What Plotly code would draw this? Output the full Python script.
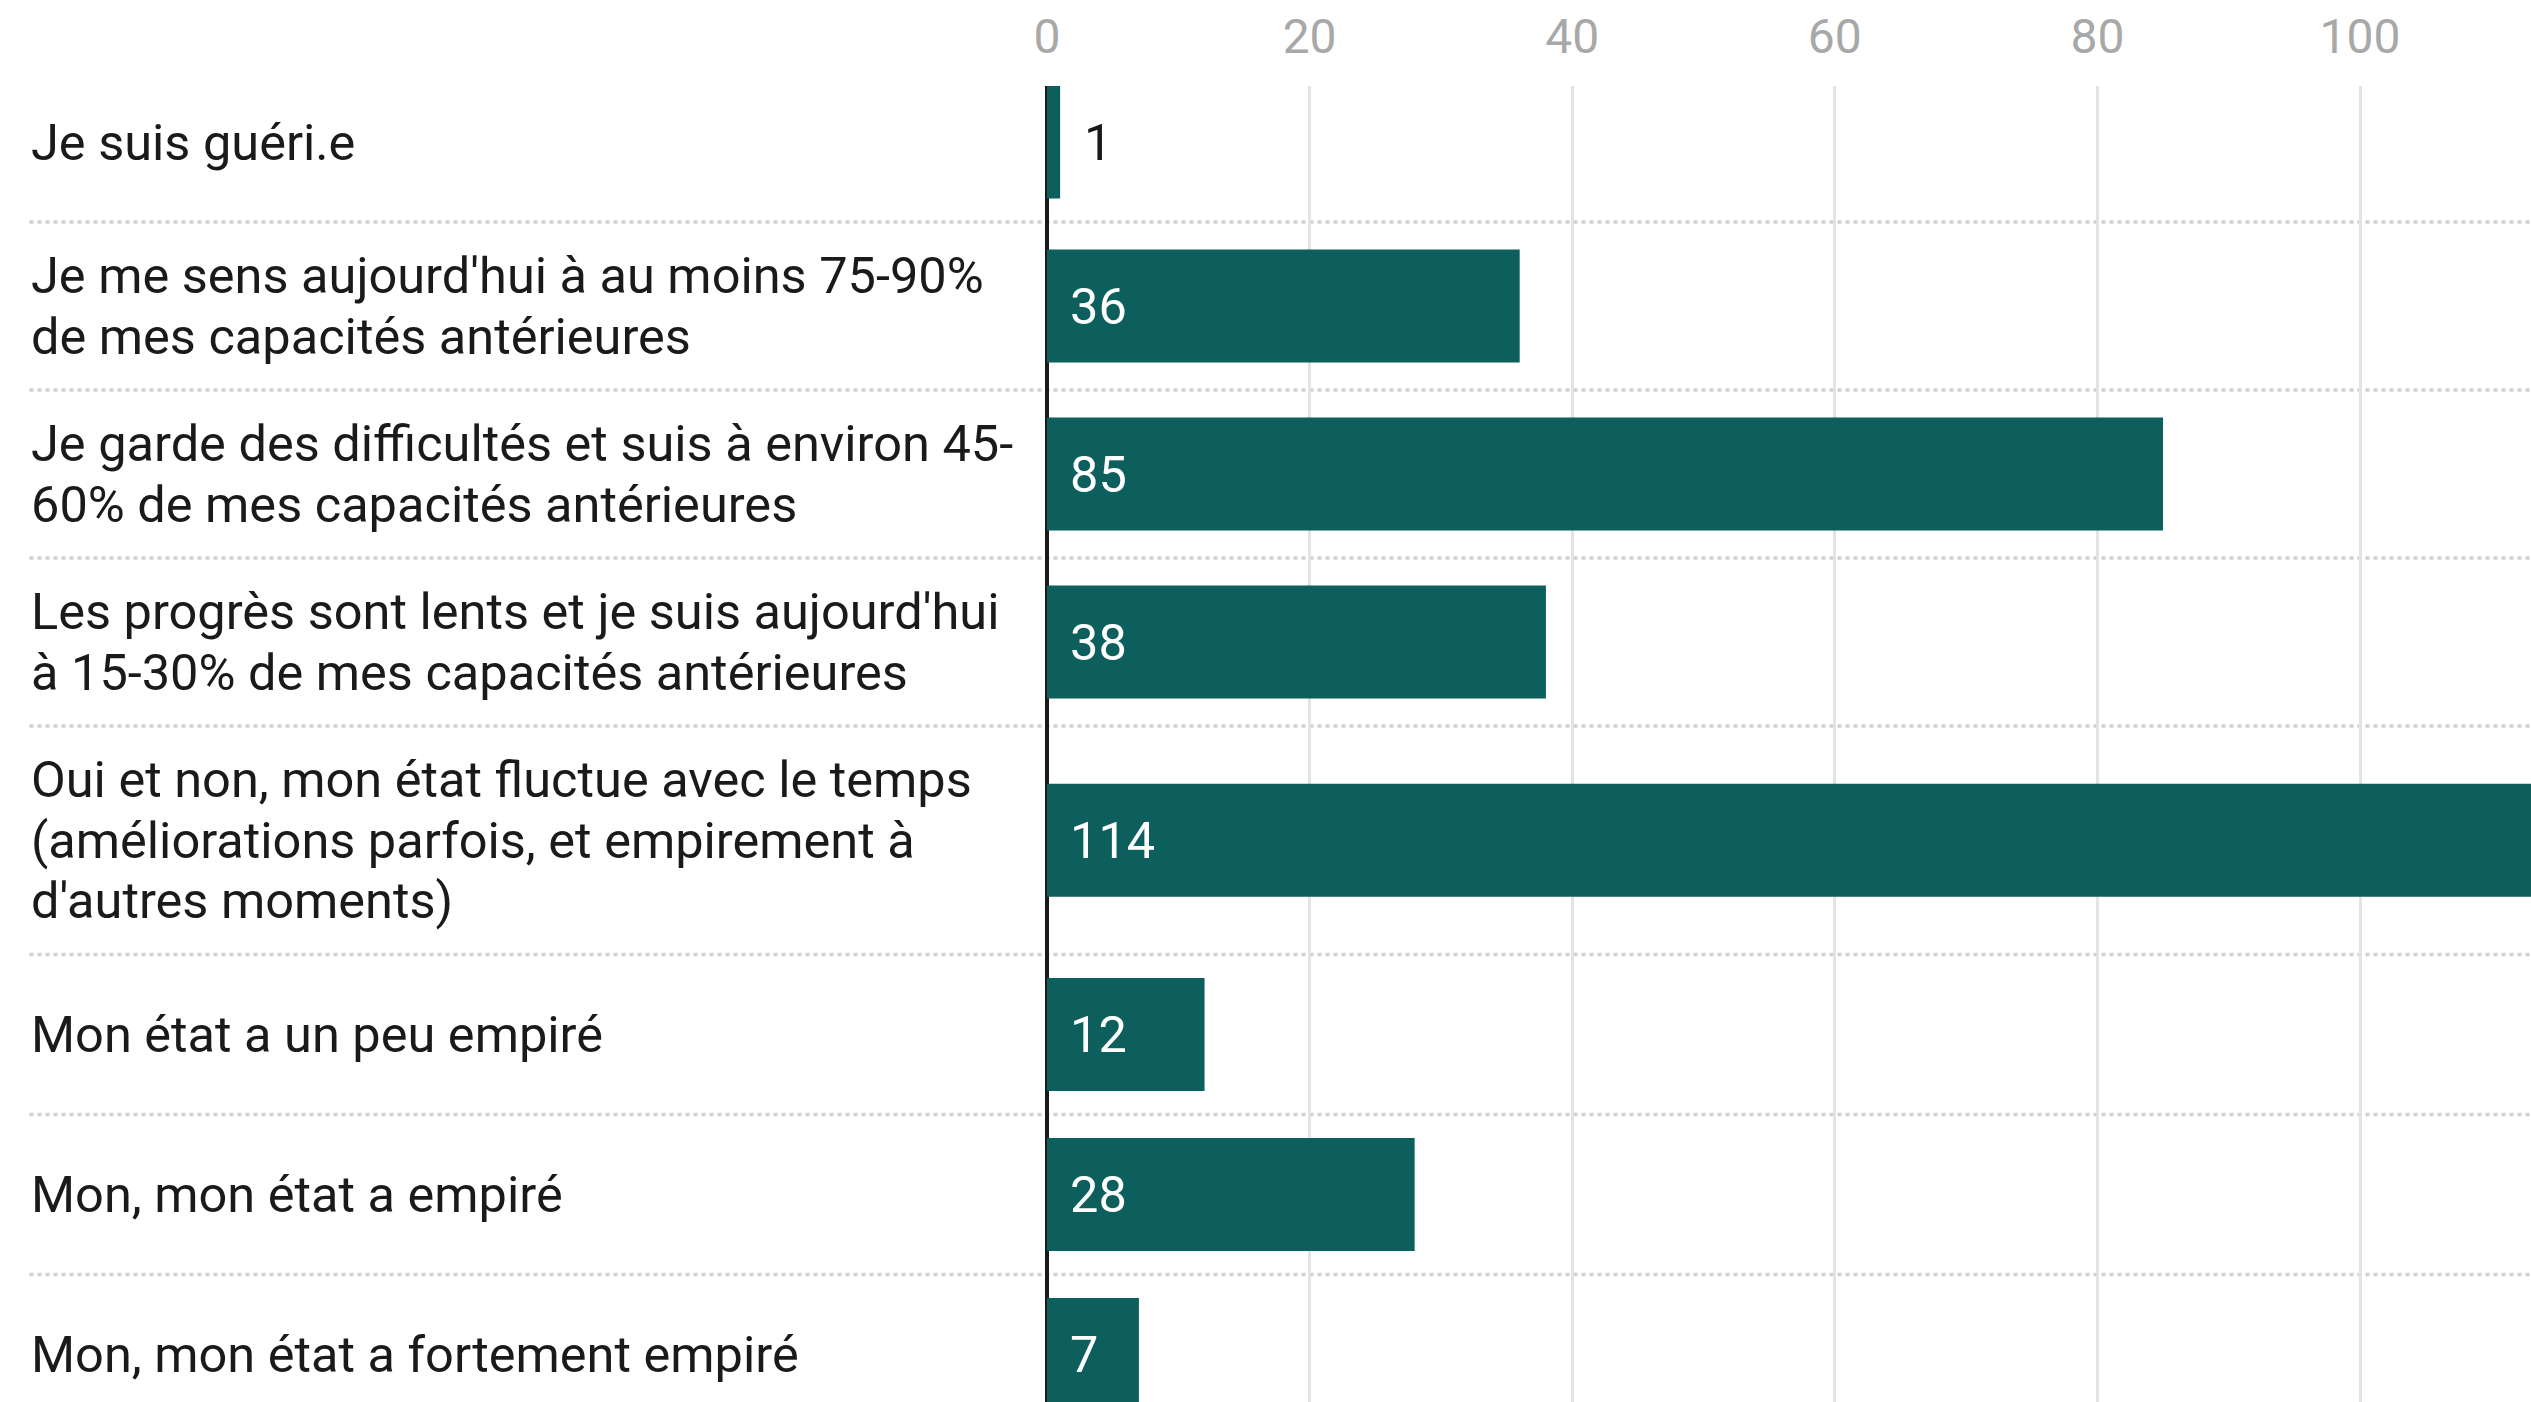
import plotly.graph_objects as go

# ---- data ----
categories = [
    "Je suis guéri.e",
    "Je me sens aujourd'hui à au moins 75-90%<br>de mes capacités antérieures",
    "Je garde des difficultés et suis à environ 45-<br>60% de mes capacités antérieures",
    "Les progrès sont lents et je suis aujourd'hui<br>à 15-30% de mes capacités antérieures",
    "Oui et non, mon état fluctue avec le temps<br>(améliorations parfois, et empirement à<br>d'autres moments)",
    "Mon état a un peu empiré",
    "Mon, mon état a empiré",
    "Mon, mon état a fortement empiré",
]
values = [1, 36, 85, 38, 114, 12, 28, 7]
tick_values = [0, 20, 40, 60, 80, 100]
tick_labels = ["0", "20", "40", "60", "80", "100"]

# ---- layout constants (pixels) ----
W, H = 2531, 1402
PLOT_L, PLOT_T = 1044, 86
X0_PX = 1047
PX_PER_UNIT = 13.13
ROW_TOP = 62
BAR_H = 113
LINE_H = 60.5
ROW_PAD = 47
LABEL_X = 29.5
FONT = "Roboto, 'Noto Sans', sans-serif"
LABEL_SIZE = 50.5
TICK_SIZE = 48
BAR_COLOR = "#0c5f5d"
TEXT_COLOR = "#1a1a1a"

plot_w = W - PLOT_L
plot_h = H - PLOT_T

# row geometry derived from number of label lines
centers, bottoms, lines_per_row = [], [], []
y = ROW_TOP
for cat in categories:
    lines = cat.split("<br>")
    n = len(lines)
    h = max(BAR_H, n * LINE_H) + ROW_PAD
    centers.append(y + h / 2)
    y += h
    bottoms.append(y)
    lines_per_row.append(lines)

fig = go.Figure()
fig.add_trace(go.Bar(
    x=values,
    y=centers,
    orientation="h",
    width=BAR_H,
    marker=dict(color=BAR_COLOR, line=dict(width=0)),
    hoverinfo="skip",
))

annotations = []
label_x_paper = (LABEL_X - PLOT_L) / plot_w
for lines, c in zip(lines_per_row, centers):
    n = len(lines)
    for i, line in enumerate(lines):
        annotations.append(dict(
            x=label_x_paper, xref="paper", xanchor="left",
            y=c + (i - (n - 1) / 2) * LINE_H, yref="y", yanchor="middle",
            text=line, showarrow=False, align="left",
            font=dict(family=FONT, size=LABEL_SIZE, color=TEXT_COLOR),
        ))

for v, c in zip(values, centers):
    inside = v * PX_PER_UNIT > 70
    annotations.append(dict(
        x=0 if inside else v, xref="x", xanchor="left",
        xshift=21 if inside else 22,
        y=c, yref="y", yanchor="middle",
        text=str(v), showarrow=False,
        font=dict(family=FONT, size=LABEL_SIZE, color="#ffffff" if inside else TEXT_COLOR),
    ))

shapes = []
for b in bottoms[:-1]:
    yp = (H - b) / plot_h
    shapes.append(dict(
        type="line", xref="paper", yref="paper",
        x0=label_x_paper, x1=1, y0=yp, y1=yp,
        line=dict(color="#d0d0d0", width=3.5, dash="4px,4px"),
        layer="below",
    ))

fig.update_layout(
    width=W, height=H,
    margin=dict(l=PLOT_L, r=0, t=PLOT_T, b=0, pad=0),
    paper_bgcolor="white", plot_bgcolor="white",
    showlegend=False,
    annotations=annotations,
    shapes=shapes,
    xaxis=dict(
        side="top",
        range=[(PLOT_L - X0_PX) / PX_PER_UNIT, (W - X0_PX) / PX_PER_UNIT],
        tickvals=tick_values, ticktext=tick_labels,
        tickfont=dict(family=FONT, size=TICK_SIZE, color="#a8a8a8"),
        ticklabelstandoff=22,
        showgrid=True, gridcolor="#e3e3e3", gridwidth=3,
        zeroline=True, zerolinecolor="#1a1a1a", zerolinewidth=3.5,
        showline=False, ticks="",
        fixedrange=True,
    ),
    yaxis=dict(
        range=[H, PLOT_T],
        showticklabels=False, showgrid=False, zeroline=False, showline=False,
        fixedrange=True,
    ),
)

fig.write_html(
    "out.html",
    config={"displayModeBar": False},
    post_script="document.body.style.margin='0';document.body.style.overflow='hidden';",
)
